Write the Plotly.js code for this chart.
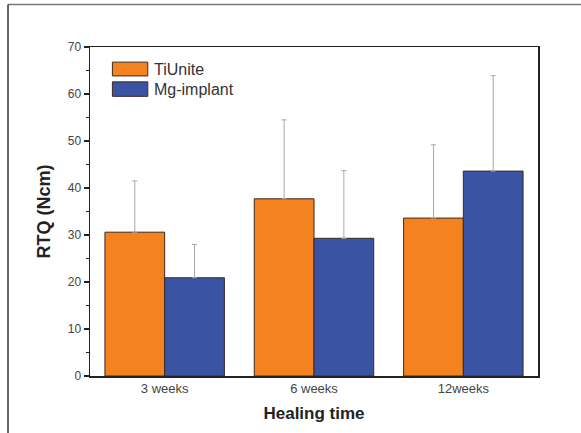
<!DOCTYPE html>
<html>
<head>
<meta charset="utf-8">
<script src="https://cdn.plot.ly/plotly-3.0.1.min.js"></script>
<style>
html,body{margin:0;padding:0;background:#fff;}
#chart{width:581px;height:433px;}
</style>
</head>
<body>
<div id="chart"></div>
<script>
const categories = ["3 weeks", "6 weeks", "12weeks"];
const seriesNames = ["TiUnite", "Mg-implant"];
const tiUnite = [30.6, 37.7, 33.6];
const tiUniteErr = [10.9, 16.8, 15.6];
const mgImplant = [20.9, 29.3, 43.6];
const mgImplantErr = [7.1, 14.4, 20.3];
const zeros = [0, 0, 0];

const colors = ["#F4821F", "#3A53A3"];

function barTrace(name, y, err, color) {
  return {
    type: "bar",
    name: name,
    x: categories,
    y: y,
    marker: {color: color, line: {color: "#3b2a22", width: 1}},
    error_y: {type: "data", symmetric: false, array: err, arrayminus: zeros,
              color: "#a8a8a8", thickness: 1, width: 2.5},
    showlegend: false,
    hoverinfo: "x+y"
  };
}

const traces = [
  barTrace(seriesNames[0], tiUnite, tiUniteErr, colors[0]),
  barTrace(seriesNames[1], mgImplant, mgImplantErr, colors[1])
];

const font = "Liberation Sans, Arial, sans-serif";

const layout = {
  width: 581, height: 433,
  margin: {l: 90, r: 43, t: 47, b: 57},
  paper_bgcolor: "#fff", plot_bgcolor: "#fff",
  barmode: "group", bargap: 0.2, bargroupgap: 0,
  font: {family: font, color: "#444"},
  xaxis: {
    type: "category",
    range: [-0.5, 2.5],
    showline: true, mirror: true, linecolor: "#222", linewidth: 1.5,
    ticks: "", showgrid: false, zeroline: false,
    tickfont: {size: 13, color: "#444", family: font},
    title: {text: "<b>Healing time</b>", font: {size: 17, color: "#222", family: font}, standoff: 12}
  },
  yaxis: {
    range: [0, 70], dtick: 10, tick0: 0,
    showline: true, mirror: true, linecolor: "#222", linewidth: 1.5,
    ticks: "outside", ticklen: 5, tickcolor: "#222", tickwidth: 1.5,
    minor: {dtick: 5, ticks: "outside", ticklen: 3, tickcolor: "#222", tickwidth: 1.5, showgrid: false},
    showgrid: false, zeroline: false,
    tickfont: {size: 12, color: "#444", family: font},
    title: {text: "<b>RTQ (Ncm)</b>", font: {size: 18, color: "#222", family: font}, standoff: 12}
  },
  shapes: [
    {type: "line", xref: "paper", yref: "paper", x0: -0.183, x1: 1.1, y0: 1.129, y1: 1.129,
     line: {color: "#777", width: 1.5}},
    {type: "line", xref: "paper", yref: "paper", x0: -0.183, x1: -0.183, y0: 1.129, y1: -0.2,
     line: {color: "#333", width: 1.5}},
    {type: "rect", xref: "paper", yref: "paper", x0: 0.050, x1: 0.129, y0: 0.912, y1: 0.954,
     fillcolor: colors[0], line: {color: "#3b2a22", width: 1}},
    {type: "rect", xref: "paper", yref: "paper", x0: 0.050, x1: 0.129, y0: 0.850, y1: 0.894,
     fillcolor: colors[1], line: {color: "#3b2a22", width: 1}}
  ],
  annotations: [
    {xref: "paper", yref: "paper", x: 0.138, y: 0.933, xanchor: "left", yanchor: "middle",
     text: seriesNames[0], showarrow: false, font: {size: 16, color: "#333", family: font}},
    {xref: "paper", yref: "paper", x: 0.138, y: 0.872, xanchor: "left", yanchor: "middle",
     text: seriesNames[1], showarrow: false, font: {size: 16, color: "#333", family: font}}
  ]
};

Plotly.newPlot("chart", traces, layout, {displayModeBar: false, staticPlot: true});
</script>
</body>
</html>
